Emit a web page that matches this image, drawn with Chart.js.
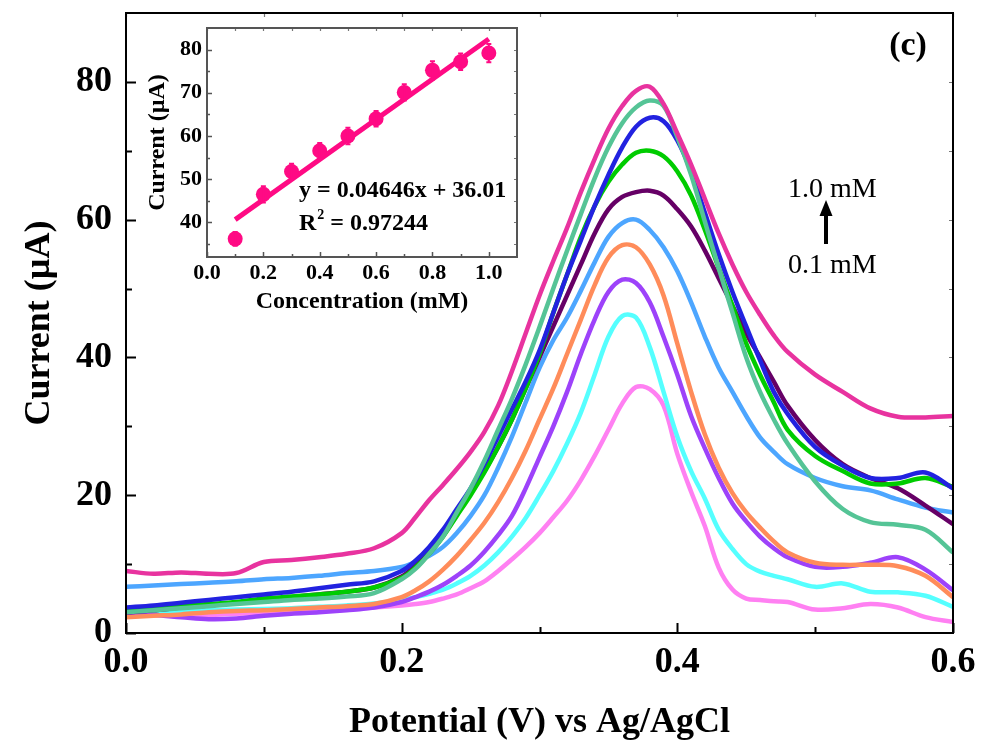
<!DOCTYPE html>
<html>
<head>
<meta charset="utf-8">
<title>DPV response</title>
<script src="https://cdn.jsdelivr.net/npm/chart.js@4.4.1/dist/chart.umd.min.js"></script>
<style>
  html, body { margin: 0; padding: 0; background: #fff; }
  #wrap { position: relative; width: 981px; height: 744px; }
  #mainChart { position: absolute; left: 0; top: 0; }
  #insetChart { position: absolute; left: 140px; top: 18px; }
</style>
</head>
<body>
<div id="wrap">
  <canvas id="mainChart" width="981" height="744"></canvas>
  <canvas id="insetChart" width="400" height="300"></canvas>
</div>
<script>
// Potential grid (V), finer through the peak
const potential = [0, 0.02, 0.04, 0.06, 0.08, 0.10, 0.12, 0.14, 0.16, 0.18,
    0.20, 0.21, 0.22, 0.23, 0.24, 0.25, 0.26, 0.27, 0.28, 0.29,
    0.30, 0.31, 0.32, 0.33, 0.34, 0.35, 0.36, 0.37, 0.38, 0.39,
    0.40, 0.41, 0.42, 0.43, 0.44, 0.45, 0.46, 0.47, 0.48,
    0.50, 0.52, 0.54, 0.56, 0.58, 0.60];

// Current (uA) for each concentration
const conc01 = [2.9, 2.8, 2.7, 2.6, 2.8, 2.9, 3.0, 3.2, 3.4, 3.7,
    4.0, 4.2, 4.5, 5.0, 5.6, 6.5, 7.5, 9.0, 10.7, 12.5,
    14.5, 16.8, 19.2, 22.2, 25.7, 29.5, 33.3, 35.7, 35.4, 33.0,
    26.0, 20.5, 15.5, 9.5, 6.3, 5.0, 4.8, 4.6, 4.5,
    3.4, 3.6, 4.2, 3.7, 2.3, 1.6];
const conc02 = [2.8, 3.0, 3.1, 3.3, 3.4, 3.5, 3.6, 3.8, 4.0, 4.3,
    4.8, 5.2, 5.7, 6.3, 7.2, 8.3, 9.8, 11.7, 14.0, 16.7,
    20.0, 23.5, 27.5, 32.0, 37.5, 43.0, 46.0, 45.8, 41.5, 35.0,
    28.5, 23.5, 19.5, 15.0, 12.2, 10.0, 8.9, 8.3, 7.8,
    6.7, 7.2, 6.0, 5.9, 5.4, 3.8];
const conc03 = [2.8, 2.6, 2.3, 2.0, 2.1, 2.5, 2.8, 3.0, 3.3, 3.7,
    4.5, 5.2, 6.0, 7.0, 8.3, 9.8, 11.8, 14.2, 17.0, 21.0,
    25.5, 30.0, 35.0, 40.5, 45.5, 49.5, 51.3, 50.8, 48.0, 43.0,
    37.5, 31.5, 26.8, 22.5, 18.8, 16.2, 14.0, 12.3, 11.0,
    9.6, 9.6, 10.2, 11.0, 9.2, 6.2];
const conc04 = [2.3, 2.5, 2.7, 3.0, 3.2, 3.3, 3.5, 3.7, 3.9, 4.2,
    5.2, 6.2, 7.5, 9.2, 11.2, 13.5, 16.0, 19.0, 22.5, 26.5,
    31.0, 35.5, 40.5, 45.5, 50.5, 54.5, 56.3, 56.0, 53.5, 49.0,
    42.0, 35.0, 28.8, 24.0, 20.3, 17.5, 15.3, 13.3, 11.7,
    10.2, 9.9, 9.9, 9.7, 8.3, 5.2];
const conc05 = [6.7, 6.9, 7.1, 7.3, 7.5, 7.8, 8.0, 8.3, 8.7, 9.0,
    9.6, 10.3, 11.2, 12.5, 14.5, 17.0, 20.0, 24.0, 28.5, 33.5,
    38.5, 42.5, 45.8, 49.7, 53.8, 57.5, 59.5, 60.0, 58.5, 56.0,
    52.5, 48.0, 43.0, 38.5, 35.0, 31.5, 28.4, 26.3, 24.5,
    22.5, 21.3, 20.7, 19.4, 18.2, 17.5];
const conc06 = [3.0, 3.3, 3.7, 4.0, 4.4, 4.8, 5.2, 5.6, 6.0, 6.6,
    8.2, 9.8, 11.8, 14.3, 17.2, 20.3, 23.5, 27.0, 31.0, 35.5,
    40.0, 44.5, 49.0, 53.5, 58.0, 61.5, 63.3, 64.0, 64.2, 63.5,
    61.5, 59.0, 55.5, 51.5, 47.5, 43.5, 40.0, 36.5, 33.0,
    28.0, 24.5, 22.5, 21.0, 18.5, 15.8];
const conc07 = [3.2, 3.5, 3.9, 4.2, 4.5, 5.0, 5.3, 5.6, 6.0, 6.6,
    8.0, 9.5, 11.5, 14.0, 17.0, 20.0, 23.3, 27.0, 31.0, 35.5,
    40.5, 46.5, 52.0, 57.5, 62.0, 65.5, 68.0, 69.7, 70.0, 69.2,
    67.0, 63.5, 58.5, 53.0, 47.5, 42.0, 37.5, 33.5, 29.5,
    25.7, 23.5, 21.7, 21.7, 22.5, 21.2];
const conc08 = [3.7, 4.0, 4.4, 4.8, 5.2, 5.6, 6.0, 6.5, 7.0, 7.5,
    9.0, 10.5, 12.5, 15.0, 18.0, 21.0, 24.5, 28.5, 32.5, 36.5,
    41.0, 46.5, 52.0, 57.0, 62.0, 66.5, 70.5, 73.5, 74.8, 74.3,
    71.5, 67.0, 61.0, 55.0, 49.5, 44.5, 39.6, 35.0, 31.8,
    27.0, 24.3, 22.5, 22.5, 23.3, 21.0];
const conc09 = [3.0, 3.3, 3.6, 3.9, 4.2, 4.5, 4.8, 5.0, 5.3, 5.8,
    7.8, 9.3, 11.5, 14.0, 17.5, 21.0, 25.0, 29.5, 34.0, 39.0,
    44.4, 50.0, 55.5, 60.8, 66.0, 70.5, 74.0, 76.3, 77.3, 76.5,
    72.0, 66.5, 59.7, 53.0, 46.5, 40.0, 35.0, 31.0, 27.5,
    22.0, 18.0, 16.1, 15.7, 15.0, 11.7];
const conc10 = [9.0, 8.6, 8.8, 8.6, 8.7, 10.3, 10.6, 11.0, 11.5, 12.3,
    14.5, 16.8, 19.3, 21.5, 23.8, 26.3, 29.2, 33.0, 38.0, 43.5,
    49.0, 54.0, 58.8, 64.0, 68.8, 73.2, 76.5, 78.7, 79.3, 76.8,
    72.5, 68.0, 63.0, 58.0, 53.5, 49.5, 46.2, 43.2, 40.8,
    37.5, 35.0, 32.6, 31.4, 31.3, 31.5];

const seriesLabels = ['0.1 mM', '0.2 mM', '0.3 mM', '0.4 mM', '0.5 mM',
    '0.6 mM', '0.7 mM', '0.8 mM', '0.9 mM', '1.0 mM'];
const seriesColors = ['#ff80f2', '#55ffff', '#9d42fa', '#ff8c5a', '#4da6ff',
    '#660066', '#00cc00', '#2222e0', '#55c496', '#e8339f'];

// Inset: peak current vs concentration
const insetConc = [0.1, 0.2, 0.3, 0.4, 0.5, 0.6, 0.7, 0.8, 0.9, 1.0];
const insetPeak = [36.2, 46.5, 51.8, 56.6, 60.0, 64.0, 70.1, 75.2, 77.2, 79.2];
const insetErr = [0.4, 0.7, 0.6, 0.6, 0.7, 0.6, 0.7, 0.9, 0.7, 0.9];
const fitRange = [0.1, 1.0];
const fitSlope = 46.46;      // uA per mM (0.04646 per uM)
const fitIntercept = 36.01;

const SERIF = '"Liberation Serif", "Times New Roman", serif';
const INSET_PINK = '#ff0a84';

// Fix an axis box size and drop the label overhang padding
function fixBox(size) {
    return function(s) {
        if (s.isHorizontal()) s.height = size; else s.width = size;
        s.paddingTop = 0;
        s.paddingBottom = 0;
        s.paddingLeft = 0;
        s.paddingRight = 0;
    };
}

// Draws the box frame and inward ticks (major + minor) for both axes
function makeFrame(id) {
    return {
        id: id,
        afterDraw(chart, args, opts) {
            const ctx = chart.ctx;
            const a = chart.chartArea;
            const xs = chart.scales.x;
            const ys = chart.scales.y;
            ctx.save();
            ctx.lineCap = 'butt';

            const minors = (scale) => {
                const v = scale.ticks.map(t => t.value);
                const out = [];
                const step = v[1] - v[0];
                for (let i = 0; i < v.length; i++) {
                    const m = v[i] + step / 2;
                    if (m < scale.max) out.push(m);
                }
                if (v[0] - step / 2 > scale.min) out.push(v[0] - step / 2);
                return out;
            };

            const drawSet = (scale, values, len, color, width, sides) => {
                ctx.strokeStyle = color;
                ctx.lineWidth = width;
                ctx.beginPath();
                values.forEach(v => {
                    const p = Math.round(scale.getPixelForValue(v)) + 0.5;
                    if (scale.axis === 'x') {
                        if (sides.main) { ctx.moveTo(p, a.bottom); ctx.lineTo(p, a.bottom - len); }
                        if (sides.opp) { ctx.moveTo(p, a.top); ctx.lineTo(p, a.top + len); }
                    } else {
                        if (sides.main) { ctx.moveTo(a.left, p); ctx.lineTo(a.left + len, p); }
                        if (sides.opp) { ctx.moveTo(a.right, p); ctx.lineTo(a.right - len, p); }
                    }
                });
                ctx.stroke();
            };

            [xs, ys].forEach(s => {
                const majors = s.ticks.map(t => t.value);
                drawSet(s, majors, opts.major, opts.color, opts.tickWidth, {main: true});
                drawSet(s, minors(s), opts.minor, opts.color, opts.tickWidth, {main: true});
                drawSet(s, majors.concat(minors(s)), opts.oppLen, opts.oppColor, 1.2, {opp: true});
            });

            ctx.strokeStyle = opts.color;
            ctx.lineWidth = opts.frameWidth;
            ctx.strokeRect(a.left, a.top, a.right - a.left, a.bottom - a.top);
            ctx.restore();
        }
    };
}

// Panel label and concentration arrow
const mainNotes = {
    id: 'mainNotes',
    afterDraw(chart) {
        const ctx = chart.ctx;
        ctx.save();
        ctx.fillStyle = '#000';
        ctx.font = 'bold 34px ' + SERIF;
        ctx.textAlign = 'center';
        ctx.textBaseline = 'middle';
        ctx.fillText('(c)', 908, 46);

        ctx.font = '28px ' + SERIF;
        ctx.textAlign = 'left';
        ctx.textBaseline = 'alphabetic';
        ctx.fillText('1.0 mM', 788, 197);
        ctx.fillText('0.1 mM', 788, 273);

        // arrow
        ctx.fillRect(824, 214, 4, 30);
        ctx.beginPath();
        ctx.moveTo(826, 200);
        ctx.lineTo(832.5, 216);
        ctx.lineTo(819.5, 216);
        ctx.closePath();
        ctx.fill();
        ctx.restore();
    }
};

const mainSeries = [conc01, conc02, conc03, conc04, conc05, conc06, conc07, conc08, conc09, conc10];

new Chart(document.getElementById('mainChart'), {
    type: 'line',
    data: {
        datasets: mainSeries.map((vals, i) => ({
            label: seriesLabels[i],
            data: potential.map((v, j) => ({x: v, y: vals[j]})),
            borderColor: seriesColors[i],
            borderWidth: 4.5,
            pointRadius: 0,
            tension: 0.35,
            fill: false,
            order: mainSeries.length - i
        }))
    },
    options: {
        responsive: false,
        animation: false,
        layout: {padding: {left: 0, top: 13, right: 28, bottom: 0}},
        plugins: {
            legend: {display: false},
            tooltip: {enabled: false},
            mainFrame: {color: '#000', frameWidth: 2, tickWidth: 2, major: 10, minor: 6, oppLen: 4, oppColor: '#777'}
        },
        scales: {
            x: {
                type: 'linear',
                min: 0,
                max: 0.6,
                afterFit: fixBox(111),
                grid: {display: false, drawTicks: false},
                border: {display: false},
                ticks: {
                    stepSize: 0.2,
                    includeBounds: false,
                    autoSkip: false,
                    maxRotation: 0,
                    padding: 8,
                    color: '#000',
                    font: {family: SERIF, size: 36, weight: 'bold'},
                    callback: v => v.toFixed(1)
                },
                title: {
                    display: true,
                    text: 'Potential (V) vs Ag/AgCl',
                    color: '#000',
                    font: {family: SERIF, size: 36, weight: 'bold'},
                    padding: {top: 0, bottom: 0}
                }
            },
            y: {
                min: 0,
                max: 90,
                afterFit: fixBox(126),
                grid: {display: false, drawTicks: false},
                border: {display: false},
                ticks: {
                    stepSize: 20,
                    includeBounds: false,
                    padding: 14,
                    color: '#000',
                    font: {family: SERIF, size: 36, weight: 'bold'}
                },
                title: {
                    display: true,
                    text: 'Current (µA)',
                    color: '#000',
                    font: {family: SERIF, size: 36, weight: 'bold'},
                    padding: {top: 18, bottom: 0}
                }
            }
        }
    },
    plugins: [makeFrame('mainFrame'), mainNotes]
});

// Error bars and regression text for the inset
const insetExtras = {
    id: 'insetExtras',
    afterDatasetsDraw(chart) {
        const ctx = chart.ctx;
        const xs = chart.scales.x;
        const ys = chart.scales.y;
        ctx.save();
        ctx.strokeStyle = INSET_PINK;
        ctx.lineWidth = 2;
        insetConc.forEach((c, i) => {
            const px = xs.getPixelForValue(c);
            const top = ys.getPixelForValue(insetPeak[i] + insetErr[i] + 1.2);
            const bot = ys.getPixelForValue(insetPeak[i] - insetErr[i] - 1.2);
            ctx.beginPath();
            ctx.moveTo(px, top); ctx.lineTo(px, bot);
            ctx.moveTo(px - 2.5, top); ctx.lineTo(px + 2.5, top);
            ctx.moveTo(px - 2.5, bot); ctx.lineTo(px + 2.5, bot);
            ctx.stroke();
        });

        ctx.fillStyle = '#000';
        ctx.font = 'bold 24px ' + SERIF;
        ctx.textAlign = 'left';
        ctx.textBaseline = 'alphabetic';
        ctx.fillText('y = 0.04646x + 36.01', 159, 179);
        ctx.fillText('R', 159, 212);
        const rw = ctx.measureText('R').width;
        ctx.font = 'bold 14px ' + SERIF;
        ctx.fillText('2', 159 + rw + 1, 201);
        ctx.font = 'bold 24px ' + SERIF;
        ctx.fillText(' = 0.97244', 159 + rw + 8, 212);
        ctx.restore();
    }
};

new Chart(document.getElementById('insetChart'), {
    type: 'scatter',
    data: {
        datasets: [
            {
                label: 'Peak current',
                data: insetConc.map((c, i) => ({x: c, y: insetPeak[i]})),
                pointRadius: 7.5,
                pointBackgroundColor: INSET_PINK,
                pointBorderWidth: 0,
                order: 0
            },
            {
                type: 'line',
                label: 'Linear fit',
                data: fitRange.map(c => ({x: c, y: fitSlope * c + fitIntercept})),
                borderColor: INSET_PINK,
                borderWidth: 5,
                pointRadius: 0,
                order: 1
            }
        ]
    },
    options: {
        responsive: false,
        animation: false,
        layout: {padding: {left: 0, top: 10, right: 23, bottom: 0}},
        plugins: {
            legend: {display: false},
            tooltip: {enabled: false},
            insetFrame: {color: '#555', frameWidth: 2, tickWidth: 1.5, major: 5, minor: 3, oppLen: 3, oppColor: '#777'}
        },
        scales: {
            x: {
                type: 'linear',
                min: 0,
                max: 1.1,
                afterFit: fixBox(61),
                grid: {display: false, drawTicks: false},
                border: {display: false},
                ticks: {
                    stepSize: 0.2,
                    includeBounds: false,
                    autoSkip: false,
                    maxRotation: 0,
                    padding: 3,
                    color: '#000',
                    font: {family: SERIF, size: 22, weight: 'bold'},
                    callback: v => v.toFixed(1)
                },
                title: {
                    display: true,
                    text: 'Concentration (mM)',
                    color: '#000',
                    font: {family: SERIF, size: 24, weight: 'bold'},
                    padding: {top: 0, bottom: 2}
                }
            },
            y: {
                min: 32,
                max: 85,
                afterFit: fixBox(67),
                grid: {display: false, drawTicks: false},
                border: {display: false},
                ticks: {
                    stepSize: 10,
                    includeBounds: false,
                    padding: 5,
                    color: '#000',
                    font: {family: SERIF, size: 22, weight: 'bold'}
                },
                title: {
                    display: true,
                    text: 'Current (µA)',
                    color: '#000',
                    font: {family: SERIF, size: 24, weight: 'bold'},
                    padding: {top: 3, bottom: 0}
                }
            }
        }
    },
    plugins: [makeFrame('insetFrame'), insetExtras]
});
</script>
</body>
</html>
